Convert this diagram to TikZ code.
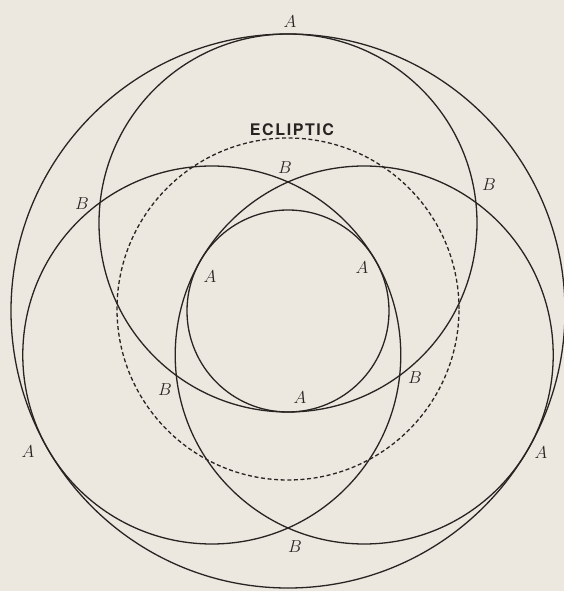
\documentclass[tikz,border=0pt]{standalone}
\usepackage{fontspec}
\usepackage{xcolor}
\usepackage{tikz}
\newfontfamily\eclfont[LetterSpace=10]{TeX Gyre Heros}
\definecolor{paper}{RGB}{236,231,223}
\definecolor{ink}{RGB}{40,36,34}

\begin{document}
\begin{tikzpicture}[
      x=1pt, y=1pt,
      orbit/.style = {draw=ink, line width=1.3pt},
      ecl/.style   = {draw=ink, line width=1.3pt, dash pattern=on 4pt off 2.6pt},
      lbl/.style   = {text=ink, inner sep=0pt, font=\fontsize{18}{20}\selectfont},
    ]
    % paper and frame
    \fill[paper] (-288,-280) rectangle (276,311);
    \useasboundingbox (-288,-280) rectangle (276,311);

    \coordinate (C) at (0,0);

    % outer and inner circle, ecliptic
    \draw[orbit] (C) circle[radius=277];
    \draw[orbit] (C) circle[radius=101];
    \draw[ecl]   (0,2) circle[radius=171];

    % the three touching circles
    \foreach \ang in {90,210,330}
      \draw[orbit] (\ang:88) circle[radius=189];

    % points of contact
    \node[lbl] (a-top)   at (2,289)    {$A$};
    \node[lbl] (a-left)  at (-260,-141) {$A$};
    \node[lbl] (a-right) at (253,-142)  {$A$};
    \node[lbl] (a-il)    at (-78,34)    {$A$};
    \node[lbl] (a-ir)    at (74,43)     {$A$};
    \node[lbl] (a-ib)    at (12,-87)    {$A$};

    % points of crossing
    \node[lbl] (b-left)  at (-206,107)  {$B$};
    \node[lbl] (b-right) at (201,126)   {$B$};
    \node[lbl] (b-top)   at (-3,143)    {$B$};
    \node[lbl] (b-il)    at (-123,-79)  {$B$};
    \node[lbl] (b-ir)    at (127,-67)   {$B$};
    \node[lbl] (b-bot)   at (7,-236)    {$B$};

    \node[text=ink, inner sep=0pt, font=\eclfont\bfseries\fontsize{16}{18}\selectfont]
                         (ecliptic) at (4,181) {ECLIPTIC};
  \end{tikzpicture}
\end{document}
